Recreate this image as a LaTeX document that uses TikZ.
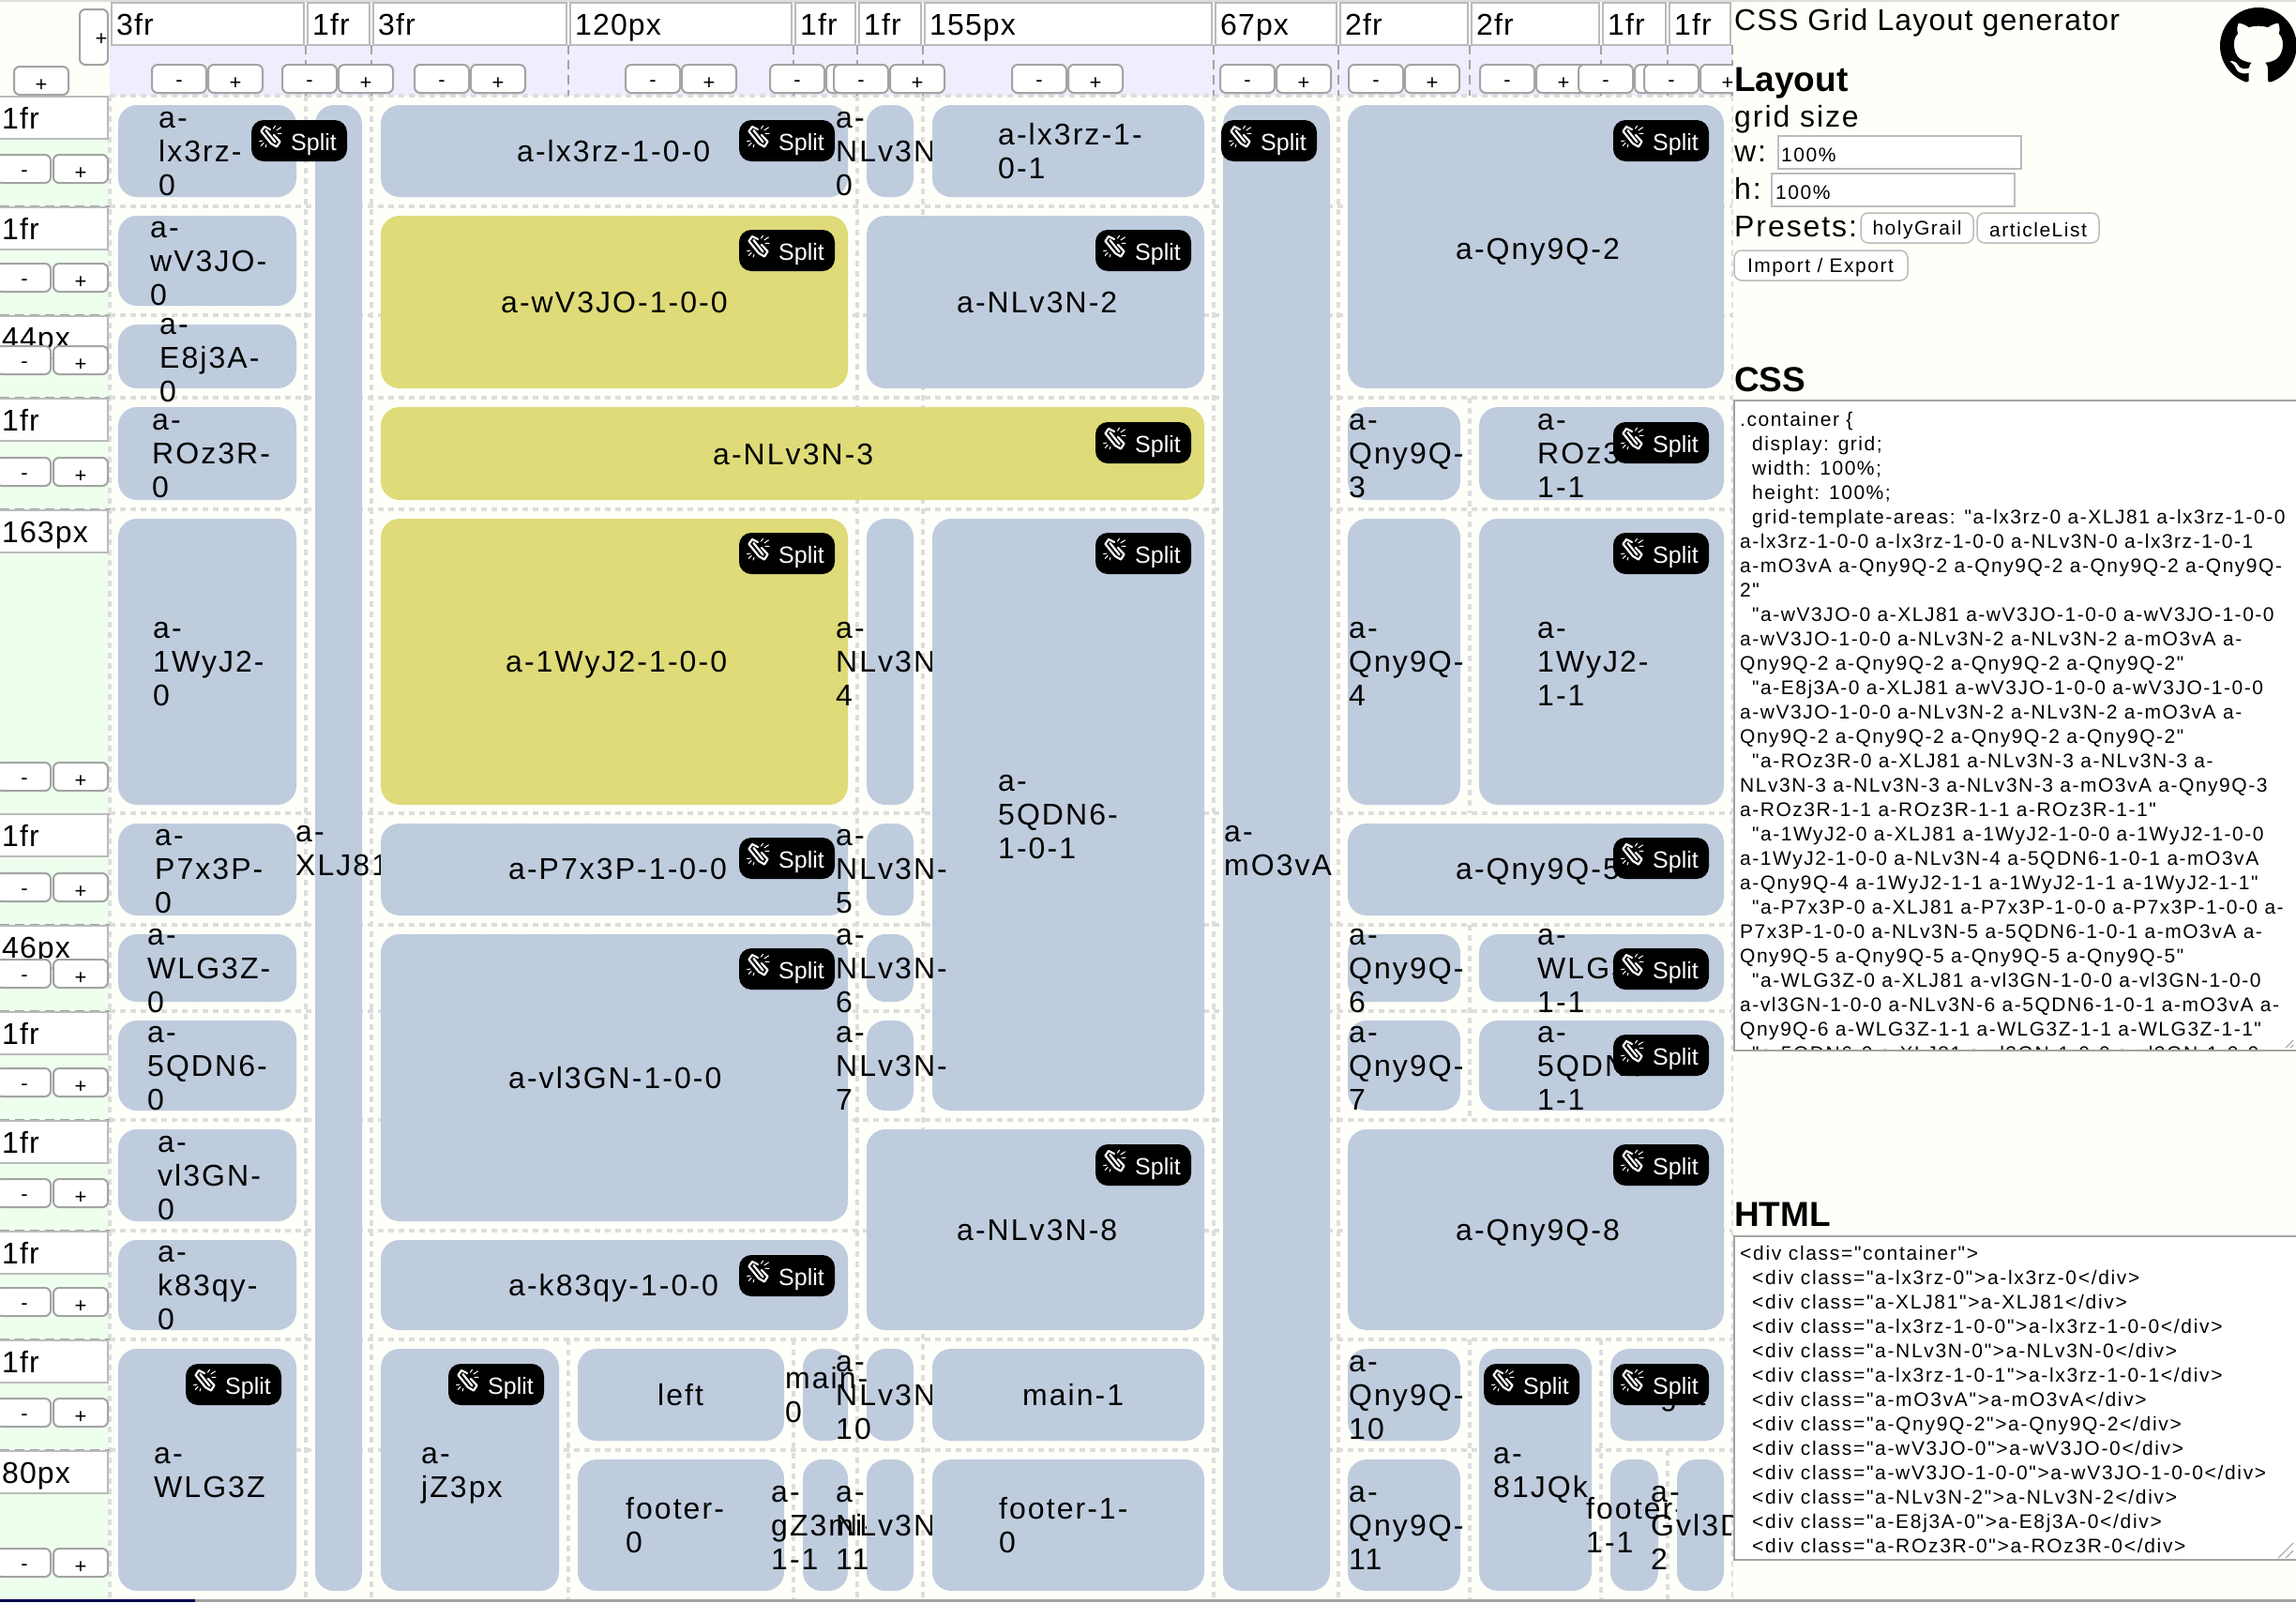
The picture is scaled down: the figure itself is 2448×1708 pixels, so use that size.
\documentclass[tikz,border=0pt]{standalone}
\usepackage{fontspec}
\usetikzlibrary{svg.path}
\setmainfont{Liberation Sans}
\newfontfamily\gf[LetterSpace=6.4]{Liberation Sans}
\newfontfamily\lf[LetterSpace=3.5]{Liberation Sans}
\newfontfamily\pf[LetterSpace=6]{Liberation Sans}
\newfontfamily\tf[LetterSpace=3.7]{Liberation Sans}
\newfontfamily\cf[LetterSpace=7.2]{Liberation Sans}
\newfontfamily\hf[LetterSpace=8]{Liberation Sans}
\definecolor{blockc}{HTML}{BFCCDE}
\definecolor{yellowc}{HTML}{DEDB78}
\definecolor{lav}{HTML}{EEEEFF}
\definecolor{mint}{HTML}{EEFFEE}
\definecolor{paper}{HTML}{FFFFFA}
\definecolor{gridg}{HTML}{DDDDDD}
\definecolor{btnb}{HTML}{A3A3A3}
\definecolor{inpb}{HTML}{BBBBBB}
\newcounter{btc}
\tikzset{
  gtext/.style={anchor=base west,inner sep=0pt,font=\gf\fontsize{32}{36}\selectfont,text=black},
  hlabel/.style={anchor=base west,inner sep=0pt,font=\lf\fontsize{32}{36}\selectfont},
  ptext/.style={anchor=base west,inner sep=0pt,font=\pf\fontsize{32}{36}\selectfont},
  ttext/.style={anchor=base west,inner sep=0pt,font=\tf\fontsize{32}{36}\selectfont},
  phead/.style={anchor=base west,inner sep=0pt,font=\bfseries\fontsize{37}{40}\selectfont},
  codetext/.style={anchor=base west,inner sep=0pt,font=\cf\fontsize{21}{26}\selectfont},
  htmltext/.style={anchor=base west,inner sep=0pt,font=\hf\fontsize{21}{26}\selectfont},
  smalltext/.style={anchor=base west,inner sep=0pt,font=\cf\fontsize{21}{26}\selectfont},
  pbtn/.style={draw=inpb,line width=1.5pt,fill=white,rounded corners=8pt},
  pbtntext/.style={inner sep=0pt,font=\cf\fontsize{21}{26}\selectfont},
  inputbox/.style={draw=inpb,line width=1.5pt,fill=white},
  btn/.style={draw=btnb,line width=2pt,fill=white,rounded corners=6pt},
  btntext/.style={inner sep=0pt,font=\fontsize{22}{24}\selectfont},
  gridline/.style={draw=gridg,line width=4pt,dash pattern=on 6pt off 5pt},
  headline/.style={draw=btnb,line width=2pt,dash pattern=on 10pt off 6pt},
  blockfill/.style={rounded corners=20pt},
  splittext/.style={anchor=base west,inner sep=0pt,text=white,font=\fontsize{25}{28}\selectfont},
}
\newcommand\blocktxt[3]{%
  \foreach \tline [count=\k] in {#3} {\xdef\nlines{\k}}%
  \foreach \tline [count=\k] in {#3} {%
    \pgfmathsetmacro\yy{#2+(\k-1-(\nlines-1)/2)*36+11}%
    \stepcounter{btc}%
    \node[gtext,name=bt\arabic{btc}] at (#1,\yy) {\tline};%
  }}
% x1 y1 x2 y2 colour textx texty lines
\newcommand\blk[8]{%
  \fill[#5,blockfill] (#1,#2) rectangle (#3,#4);%
  \blocktxt{#6}{#7}{#8}}
\newcommand\splitbtn[2]{%
  \begin{scope}[shift={(#1,#2)}]
    \fill[black,rounded corners=13pt] (0,0) rectangle (102,44);
    \draw[white,line width=2.2pt,line join=round,line cap=round] (20,10) -- (14,7) -- (10.5,12) -- (21,25) -- (27,28.5) -- (30.5,23) -- (24,16);
    \draw[white,line width=2.2pt,line join=round,line cap=round] (15.5,11) -- (25.5,23.5);
    \draw[white,line width=1pt] (23.3,9.3) -- (25.7,6) (26.7,11) -- (31.7,7.7) (27.7,14.3) -- (32.3,14.3)
       (8.3,22.7) -- (12.3,22) (10,27.7) -- (13.3,24.3) (15,29.3) -- (16,26);
    \node[splittext] at (42,32) {Split};
  \end{scope}}
\newcommand\hcol[3]{% left right label
  \fill[white] (#1+2,3) rectangle (#2-2,48);
  \draw[inputbox] (#1+2,3) rectangle (#2-2,48);
  \node[hlabel] at (#1+7,37) {#3};}
\newcommand\hbtn[1]{% col centre
  \draw[btn] (#1-59,69) rectangle (#1-1,99);
  \draw[btn] (#1+1,69) rectangle (#1+59,99);
  \node[btntext] at (#1-30,89) {-};
  \node[btntext] at (#1+30,89) {+};}
\newcommand\rowhead[3]{% top next label
  \draw[inputbox] (-2,#1+1) rectangle (115,#1+46);
  \node[hlabel] at (2,#1+35) {#3};
  \draw[btn] (-4,#2-55) rectangle (54,#2-25);
  \draw[btn] (57,#2-55) rectangle (115,#2-25);
  \node[btntext] at (26,#2-35) {-};
  \node[btntext] at (86,#2-35) {+};
  \draw[headline] (0,#2) -- (117,#2);}
\newcommand\cl[3]{\node[codetext] at (#1,#2) {#3};}
\newcommand\hl[3]{\node[htmltext] at (#1,#2) {#3};}
\begin{document}
\begin{tikzpicture}[x=1pt,y=-1pt]
\useasboundingbox (0,0) rectangle (2448,1708);
\fill[paper] (0,0) rectangle (2448,1708);
% header tints
\fill[lav] (117,48) rectangle (1847,102);
\fill[mint] (0,102) rectangle (117,1706);
% grid lines
\foreach \yy in {102,220,336,424,543,867,986,1078,1194,1312,1428,1546}
  \draw[gridline] (117,\yy) -- (1847,\yy);
\foreach \xx in {117,326,396,914,984,1294,1427}
  \draw[gridline] (\xx,102) -- (\xx,1706);
\draw[gridline] (606,1428) -- (606,1706);
\draw[gridline] (846,1428) -- (846,1706);
\draw[gridline] (1567,424) -- (1567,867);
\draw[gridline] (1567,986) -- (1567,1194);
\draw[gridline] (1567,1428) -- (1567,1706);
\draw[gridline] (1707,1428) -- (1707,1706);
\draw[gridline] (1778,1546) -- (1778,1706);
% header
\foreach \xx in {326,396,606,846,914,984,1294,1427,1567,1707,1778,1847}
  \draw[headline] (\xx,48) -- (\xx,102);
\hcol{117}{326}{3fr}
\hcol{326}{396}{1fr}
\hcol{396}{606}{3fr}
\hcol{606}{846}{120px}
\hcol{846}{914}{1fr}
\hcol{914}{984}{1fr}
\hcol{984}{1294}{155px}
\hcol{1294}{1427}{67px}
\hcol{1427}{1567}{2fr}
\hcol{1567}{1707}{2fr}
\hcol{1707}{1778}{1fr}
\hcol{1778}{1847}{1fr}
\hbtn{221}\hbtn{360}\hbtn{501}\hbtn{726}\hbtn{880}\hbtn{948}\hbtn{1138}\hbtn{1360}\hbtn{1497}\hbtn{1637}\hbtn{1742}\hbtn{1812}
\draw[btn] (85,10) rectangle (115,69);
\node[btntext] at (108,42) {+};
\draw[btn] (15,71) rectangle (73,101);
\node[btntext] at (44,91) {+};
% row headers
\rowhead{102}{220}{1fr}
\rowhead{220}{336}{1fr}
\rowhead{336}{424}{44px}
\rowhead{424}{543}{1fr}
\rowhead{543}{868}{163px}
\rowhead{867}{986}{1fr}
\rowhead{986}{1078}{46px}
\rowhead{1078}{1194}{1fr}
\rowhead{1194}{1312}{1fr}
\rowhead{1312}{1428}{1fr}
\rowhead{1428}{1546}{1fr}
\rowhead{1546}{1706}{80px}
% grid items in document order
\blk{126}{112}{316}{210}{blockc}{169}{161}{a-,lx3rz-,0}
\blk{336}{112}{386}{1696}{blockc}{315}{904}{a-,XLJ81}
\blk{406}{112}{904}{210}{blockc}{551}{161}{a-lx3rz-1-0-0}
\blk{924}{112}{974}{210}{blockc}{891}{161}{a-,NLv3N-,0}
\blk{994}{112}{1284}{210}{blockc}{1064}{161}{a-lx3rz-1-,0-1}
\blk{1304}{112}{1418}{1696}{blockc}{1305}{904}{a-,mO3vA}
\blk{1437}{112}{1838}{414}{blockc}{1552}{265}{a-Qny9Q-2}
\blk{126}{230}{316}{326}{blockc}{160}{278}{a-,wV3JO-,0}
\blk{406}{230}{904}{414}{yellowc}{534}{322}{a-wV3JO-1-0-0}
\blk{924}{230}{1284}{414}{blockc}{1020}{322}{a-NLv3N-2}
\blk{126}{346}{316}{414}{blockc}{170}{381}{a-,E8j3A-,0}
\blk{126}{434}{316}{533}{blockc}{162}{483}{a-,ROz3R-,0}
\blk{406}{434}{1284}{533}{yellowc}{760}{484}{a-NLv3N-3}
\blk{1437}{434}{1557}{533}{blockc}{1438}{483}{a-,Qny9Q-,3}
\blk{1577}{434}{1838}{533}{blockc}{1639}{483}{a-,ROz3R-,1-1}
\blk{126}{553}{316}{858}{blockc}{163}{705}{a-,1WyJ2-,0}
\blk{406}{553}{904}{858}{yellowc}{539}{705}{a-1WyJ2-1-0-0}
\blk{924}{553}{974}{858}{blockc}{891}{705}{a-,NLv3N-,4}
\blk{994}{553}{1284}{1184}{blockc}{1064}{868}{a-,5QDN6-,1-0-1}
\blk{1437}{553}{1557}{858}{blockc}{1438}{705}{a-,Qny9Q-,4}
\blk{1577}{553}{1838}{858}{blockc}{1639}{705}{a-,1WyJ2-,1-1}
\blk{126}{878}{316}{976}{blockc}{165}{926}{a-,P7x3P-,0}
\blk{406}{878}{904}{976}{blockc}{542}{926}{a-P7x3P-1-0-0}
\blk{924}{878}{974}{976}{blockc}{891}{926}{a-,NLv3N-,5}
\blk{1437}{878}{1838}{976}{blockc}{1552}{926}{a-Qny9Q-5}
\blk{126}{996}{316}{1068}{blockc}{157}{1032}{a-,WLG3Z-,0}
\blk{406}{996}{904}{1302}{blockc}{542}{1149}{a-vl3GN-1-0-0}
\blk{924}{996}{974}{1068}{blockc}{891}{1032}{a-,NLv3N-,6}
\blk{1437}{996}{1557}{1068}{blockc}{1438}{1032}{a-,Qny9Q-,6}
\blk{1577}{996}{1838}{1068}{blockc}{1639}{1032}{a-,WLG3Z-,1-1}
\blk{126}{1088}{316}{1184}{blockc}{157}{1136}{a-,5QDN6-,0}
\blk{924}{1088}{974}{1184}{blockc}{891}{1136}{a-,NLv3N-,7}
\blk{1437}{1088}{1557}{1184}{blockc}{1438}{1136}{a-,Qny9Q-,7}
\blk{1577}{1088}{1838}{1184}{blockc}{1639}{1136}{a-,5QDN6-,1-1}
\blk{126}{1204}{316}{1302}{blockc}{168}{1253}{a-,vl3GN-,0}
\blk{924}{1204}{1284}{1418}{blockc}{1020}{1311}{a-NLv3N-8}
\blk{1437}{1204}{1838}{1418}{blockc}{1552}{1311}{a-Qny9Q-8}
\blk{126}{1322}{316}{1418}{blockc}{168}{1370}{a-,k83qy-,0}
\blk{406}{1322}{904}{1418}{blockc}{542}{1370}{a-k83qy-1-0-0}
\blk{126}{1438}{316}{1696}{blockc}{164}{1567}{a-,WLG3Z}
\blk{406}{1438}{596}{1696}{blockc}{449}{1567}{a-,jZ3px}
\blk{616}{1438}{836}{1536}{blockc}{701}{1487}{left}
\blk{856}{1438}{904}{1536}{blockc}{837}{1487}{main-,0}
\blk{924}{1438}{974}{1536}{blockc}{891}{1487}{a-,NLv3N-,10}
\blk{994}{1438}{1284}{1536}{blockc}{1090}{1487}{main-1}
\blk{1437}{1438}{1557}{1536}{blockc}{1438}{1487}{a-,Qny9Q-,10}
\blk{1577}{1438}{1697}{1696}{blockc}{1592}{1567}{a-,81JQk}
\blk{1717}{1438}{1838}{1536}{blockc}{1748}{1487}{right}
\blk{616}{1556}{836}{1696}{blockc}{667}{1626}{footer-,0}
\blk{856}{1556}{904}{1696}{blockc}{822}{1626}{a-,gZ3mi-,1-1}
\blk{924}{1556}{974}{1696}{blockc}{891}{1626}{a-,NLv3N-,11}
\blk{994}{1556}{1284}{1696}{blockc}{1065}{1626}{footer-1-,0}
\blk{1437}{1556}{1557}{1696}{blockc}{1438}{1626}{a-,Qny9Q-,11}
\blk{1717}{1556}{1768}{1696}{blockc}{1691}{1626}{footer-,1-1}
\blk{1788}{1556}{1838}{1696}{blockc}{1760}{1626}{a-,Gvl3D-,2}
% split buttons
\splitbtn{268}{128}\splitbtn{788}{128}\splitbtn{1302}{128}\splitbtn{1720}{128}
\splitbtn{788}{245}\splitbtn{1168}{245}
\splitbtn{1168}{450}\splitbtn{1720}{450}
\splitbtn{788}{568}\splitbtn{1168}{568}\splitbtn{1720}{568}
\splitbtn{788}{893}\splitbtn{1720}{893}
\splitbtn{788}{1011}\splitbtn{1720}{1011}
\splitbtn{1720}{1103}
\splitbtn{1168}{1220}\splitbtn{1720}{1220}
\splitbtn{788}{1338}
\splitbtn{198}{1454}\splitbtn{478}{1454}\splitbtn{1582}{1454}\splitbtn{1720}{1454}
% right panel
\fill[paper] (1848,0) rectangle (2448,1708);
\draw[gridline,line width=2pt] (1847,102) -- (1847,1706);
\node[ttext] (title) at (1849,32) {CSS Grid Layout generator};
\node[phead] (layouth) at (1849,97) {Layout};
\node[ptext] (gridsize) at (1849,135) {grid size};
\node[ptext] (wlabel) at (1849,172) {w:};
\draw[inputbox] (1896,145) rectangle (2155,180);
\node[smalltext] (wval) at (1899,172) {100\%};
\node[ptext] (hlabel) at (1849,212) {h:};
\draw[inputbox] (1889,185) rectangle (2148,220);
\node[smalltext] (hval) at (1893,212) {100\%};
\node[ptext] (presets) at (1849,252) {Presets:};
\draw[pbtn] (1984,227) rectangle (2104,259);
\node[pbtntext] (holy) at (2044,245) {holyGrail};
\draw[pbtn] (2108,227) rectangle (2238,259);
\node[pbtntext] (article) at (2173,245) {articleList};
\draw[pbtn] (1849,267) rectangle (2034,299);
\node[pbtntext] (imp) at (1941,285) {Import / Export};
\node[phead] (cssh) at (1849,417) {CSS};
\node[phead] (htmlh) at (1849,1307) {HTML};
% github mark
\fill[black,shift={(2367,8)},xscale=5.1,yscale=-5.1]
  svg {M 8 0 C 3.58 0 0 3.58 0 8 c 0 3.54 2.29 6.53 5.47 7.59 c 0.4 0.07 0.55 -0.17 0.55 -0.38 c 0 -0.19 -0.01 -0.82 -0.01 -1.49 c -2.01 0.37 -2.53 -0.49 -2.69 -0.94 c -0.09 -0.23 -0.48 -0.94 -0.82 -1.13 c -0.28 -0.15 -0.68 -0.52 -0.01 -0.53 c 0.63 -0.01 1.08 0.58 1.23 0.82 c 0.72 1.21 1.87 0.87 2.33 0.66 c 0.07 -0.52 0.28 -0.87 0.51 -1.07 c -1.78 -0.2 -3.64 -0.89 -3.64 -3.95 c 0 -0.87 0.31 -1.59 0.82 -2.15 c -0.08 -0.2 -0.36 -1.02 0.08 -2.12 c 0 0 0.67 -0.21 2.2 0.82 c 0.64 -0.18 1.32 -0.27 2 -0.27 c 0.68 0 1.36 0.09 2 0.27 c 1.53 -1.04 2.2 -0.82 2.2 -0.82 c 0.44 1.1 0.16 1.92 0.08 2.12 c 0.51 0.56 0.82 1.27 0.82 2.15 c 0 3.07 -1.87 3.75 -3.65 3.95 c 0.29 0.25 0.54 0.73 0.54 1.48 c 0 1.07 -0.01 1.93 -0.01 2.2 c 0 0.21 0.15 0.46 0.55 0.38 C 13.71 14.53 16 11.53 16 8 c 0 -4.42 -3.58 -8 -8 -8 z};
% css box
\draw[fill=white,draw=btnb,line width=2.5pt] (1849,427) rectangle (2449,1120);
\begin{scope}
\clip (1851,429) rectangle (2446,1118);
\cl{1855}{454}{.container \{}
\cl{1868}{480}{display: grid;}
\cl{1868}{506}{width: 100\%;}
\cl{1868}{532}{height: 100\%;}
\cl{1868}{558}{grid-template-areas: "a-lx3rz-0 a-XLJ81 a-lx3rz-1-0-0}
\cl{1855}{584}{a-lx3rz-1-0-0 a-lx3rz-1-0-0 a-NLv3N-0 a-lx3rz-1-0-1}
\cl{1855}{610}{a-mO3vA a-Qny9Q-2 a-Qny9Q-2 a-Qny9Q-2 a-Qny9Q-}
\cl{1855}{636}{2"}
\cl{1868}{662}{"a-wV3JO-0 a-XLJ81 a-wV3JO-1-0-0 a-wV3JO-1-0-0}
\cl{1855}{688}{a-wV3JO-1-0-0 a-NLv3N-2 a-NLv3N-2 a-mO3vA a-}
\cl{1855}{714}{Qny9Q-2 a-Qny9Q-2 a-Qny9Q-2 a-Qny9Q-2"}
\cl{1868}{740}{"a-E8j3A-0 a-XLJ81 a-wV3JO-1-0-0 a-wV3JO-1-0-0}
\cl{1855}{766}{a-wV3JO-1-0-0 a-NLv3N-2 a-NLv3N-2 a-mO3vA a-}
\cl{1855}{792}{Qny9Q-2 a-Qny9Q-2 a-Qny9Q-2 a-Qny9Q-2"}
\cl{1868}{818}{"a-ROz3R-0 a-XLJ81 a-NLv3N-3 a-NLv3N-3 a-}
\cl{1855}{844}{NLv3N-3 a-NLv3N-3 a-NLv3N-3 a-mO3vA a-Qny9Q-3}
\cl{1855}{870}{a-ROz3R-1-1 a-ROz3R-1-1 a-ROz3R-1-1"}
\cl{1868}{896}{"a-1WyJ2-0 a-XLJ81 a-1WyJ2-1-0-0 a-1WyJ2-1-0-0}
\cl{1855}{922}{a-1WyJ2-1-0-0 a-NLv3N-4 a-5QDN6-1-0-1 a-mO3vA}
\cl{1855}{948}{a-Qny9Q-4 a-1WyJ2-1-1 a-1WyJ2-1-1 a-1WyJ2-1-1"}
\cl{1868}{974}{"a-P7x3P-0 a-XLJ81 a-P7x3P-1-0-0 a-P7x3P-1-0-0 a-}
\cl{1855}{1000}{P7x3P-1-0-0 a-NLv3N-5 a-5QDN6-1-0-1 a-mO3vA a-}
\cl{1855}{1026}{Qny9Q-5 a-Qny9Q-5 a-Qny9Q-5 a-Qny9Q-5"}
\cl{1868}{1052}{"a-WLG3Z-0 a-XLJ81 a-vl3GN-1-0-0 a-vl3GN-1-0-0}
\cl{1855}{1078}{a-vl3GN-1-0-0 a-NLv3N-6 a-5QDN6-1-0-1 a-mO3vA a-}
\cl{1855}{1104}{Qny9Q-6 a-WLG3Z-1-1 a-WLG3Z-1-1 a-WLG3Z-1-1"}
\cl{1868}{1130}{"a-5QDN6-0 a-XLJ81 a-vl3GN-1-0-0 a-vl3GN-1-0-0}
\end{scope}
\draw[btnb,line width=1pt] (2437,1117) -- (2445,1109) (2442,1117) -- (2445,1114);
% html box
\draw[fill=white,draw=btnb,line width=2.5pt] (1849,1318) rectangle (2449,1663);
\hl{1855}{1343}{<div class="container">}
\hl{1868}{1369}{<div class="a-lx3rz-0">a-lx3rz-0</div>}
\hl{1868}{1395}{<div class="a-XLJ81">a-XLJ81</div>}
\hl{1868}{1421}{<div class="a-lx3rz-1-0-0">a-lx3rz-1-0-0</div>}
\hl{1868}{1447}{<div class="a-NLv3N-0">a-NLv3N-0</div>}
\hl{1868}{1473}{<div class="a-lx3rz-1-0-1">a-lx3rz-1-0-1</div>}
\hl{1868}{1499}{<div class="a-mO3vA">a-mO3vA</div>}
\hl{1868}{1525}{<div class="a-Qny9Q-2">a-Qny9Q-2</div>}
\hl{1868}{1551}{<div class="a-wV3JO-0">a-wV3JO-0</div>}
\hl{1868}{1577}{<div class="a-wV3JO-1-0-0">a-wV3JO-1-0-0</div>}
\hl{1868}{1603}{<div class="a-NLv3N-2">a-NLv3N-2</div>}
\hl{1868}{1629}{<div class="a-E8j3A-0">a-E8j3A-0</div>}
\hl{1868}{1655}{<div class="a-ROz3R-0">a-ROz3R-0</div>}
\draw[btnb,line width=1pt] (2429,1661) -- (2445,1645) (2437,1661) -- (2445,1653);
% window edges
\draw[gridg,line width=2pt] (0,1) -- (2448,1);
\draw[btnb,line width=3pt] (0,1706) -- (2448,1706);
\draw[black!70!blue,line width=3pt] (0,1706) -- (208,1706);
\end{tikzpicture}
\end{document}
